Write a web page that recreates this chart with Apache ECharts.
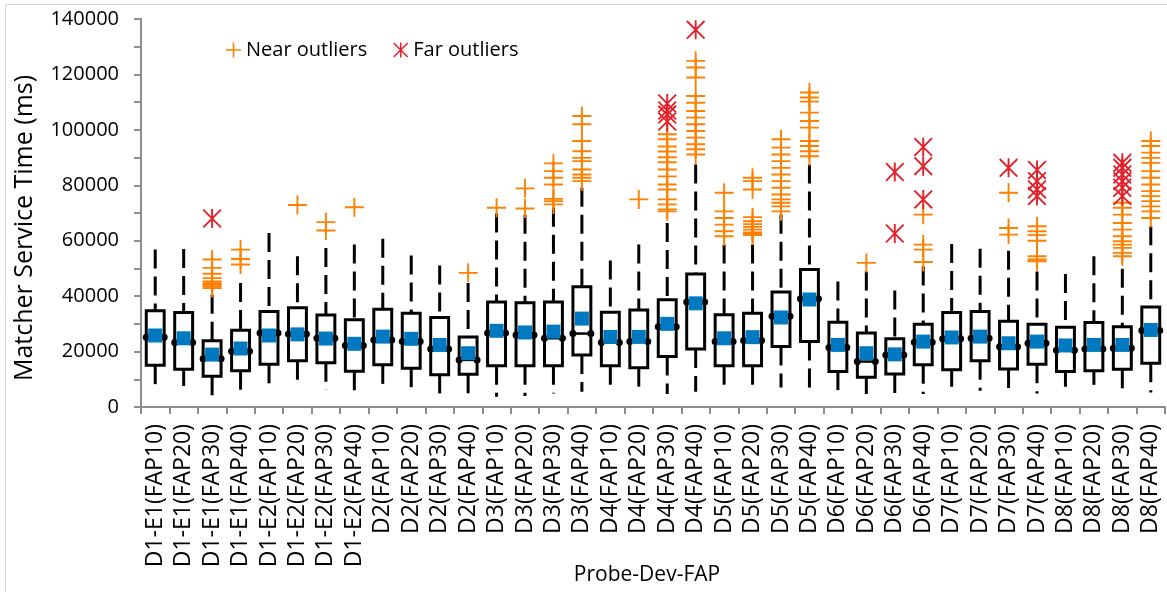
<!DOCTYPE html>
<html>
<head>
<meta charset="utf-8">
<script src="https://cdn.jsdelivr.net/npm/echarts@6/dist/echarts.min.js"></script>
<style>
  html, body { margin: 0; padding: 0; background: #fff; }
  #chart { width: 1167px; height: 592px; }
</style>
</head>
<body>
<div id="chart"></div>
<script>
// Matcher service time per probe / device / FAP setting (ms)
const categories = [
  'D1-E1(FAP10)', 'D1-E1(FAP20)', 'D1-E1(FAP30)', 'D1-E1(FAP40)',
  'D1-E2(FAP10)', 'D1-E2(FAP20)', 'D1-E2(FAP30)', 'D1-E2(FAP40)',
  'D2(FAP10)', 'D2(FAP20)', 'D2(FAP30)', 'D2(FAP40)',
  'D3(FAP10)', 'D3(FAP20)', 'D3(FAP30)', 'D3(FAP40)',
  'D4(FAP10)', 'D4(FAP20)', 'D4(FAP30)', 'D4(FAP40)',
  'D5(FAP10)', 'D5(FAP20)', 'D5(FAP30)', 'D5(FAP40)',
  'D6(FAP10)', 'D6(FAP20)', 'D6(FAP30)', 'D6(FAP40)',
  'D7(FAP10)', 'D7(FAP20)', 'D7(FAP30)', 'D7(FAP40)',
  'D8(FAP10)', 'D8(FAP20)', 'D8(FAP30)', 'D8(FAP40)'
];

const whiskerLow = [6900, 7600, 4000, 5500, 7100, 7300, 6100, 5200, 6400, 5800, 4900, 4600,
  3700, 4000, 4900, 5500, 7000, 6500, 4700, 5500, 7000, 6100, 7000, 6100,
  6100, 4700, 4700, 4700, 7300, 5900, 4700, 4900, 7300, 8000, 4300, 5200];

const q1 = [15100, 13600, 11100, 13100, 15400, 16700, 16000, 12900, 15200, 14000, 11600, 11800,
  14900, 14900, 14900, 18800, 14900, 14200, 18200, 20900, 14900, 14900, 21800, 23600,
  12800, 10700, 11900, 15200, 13400, 16700, 13700, 15400, 12800, 13100, 13600, 15800];

const median = [25200, 23300, 17400, 20100, 26700, 26300, 24800, 22200, 24200, 23600, 20900, 17000,
  26700, 26000, 24800, 26500, 23300, 23600, 29000, 37900, 23600, 24000, 32700, 39100,
  21500, 16400, 18800, 23400, 24600, 24800, 21700, 23000, 20500, 20900, 21200, 27600];

const q3 = [34700, 34100, 23900, 27700, 34500, 35800, 33200, 31500, 35300, 33800, 32300, 25300,
  37900, 37600, 37900, 43400, 34200, 35000, 38700, 48000, 33300, 33800, 41500, 49600,
  30600, 26700, 24600, 29900, 34100, 34500, 30900, 29900, 28800, 30500, 29000, 36100];

const whiskerHigh = [56800, 57000, 40500, 44700, 62800, 54400, 57400, 58600, 60700, 54700, 51100, 44700,
  69800, 69400, 71900, 79100, 52900, 58600, 66400, 87500, 58600, 58600, 69400, 87500,
  45300, 48900, 42000, 50700, 58800, 57100, 56400, 48900, 48000, 54400, 49900, 65200];

const mean = [25800, 24800, 18900, 21100, 25800, 26200, 24700, 22800, 25400, 24600, 22400, 19400,
  27500, 26900, 27200, 31900, 25300, 25300, 30000, 37400, 24800, 25200, 32300, 38800,
  22400, 19400, 19000, 23600, 25100, 25400, 23000, 23600, 22200, 22400, 22400, 27800];

// Outliers, one list per category (same order as categories)
const nearOutliers = [
  [], [],
  [53200, 50200, 48100, 46500, 45300, 44700, 44100, 43500, 42900],
  [56800, 53400, 51400],
  [], [72900], [66700, 63700], [72100],
  [], [], [], [48400],
  [71900], [78900, 71600],
  [87900, 85100, 82700, 80300, 75100, 74300, 73100],
  [105000, 102000, 96000, 92300, 89900, 88700, 85700, 83900, 82700, 81500],
  [], [74900],
  [98400, 96600, 94000, 92200, 90100, 88300, 85700, 83200, 80300, 78500, 74900, 73100, 71300, 70600],
  [124900, 122500, 118900, 112200, 109800, 106800, 104400, 102000, 99600, 97200, 94800, 93000, 91100],
  [77300, 70600, 68200, 65800, 63400, 61600],
  [82700, 81500, 78500, 68500, 67000, 66000, 65000, 64000, 63000, 62500, 62000],
  [96600, 93600, 91100, 88700, 86300, 83900, 81500, 79100, 76700, 74900, 73700, 72400, 70600],
  [113500, 111700, 110200, 106200, 103200, 100800, 96000, 94200, 92300, 90500],
  [], [52000], [], [69400, 58600, 56800, 52300],
  [], [], [77300, 64600, 62200],
  [65200, 63400, 62000, 60000, 54400, 53200, 52600],
  [], [],
  [73700, 71900, 69400, 66400, 64000, 61600, 59800, 58600, 57400, 55600, 54400],
  [96000, 94200, 91800, 89900, 88100, 85100, 82700, 80300, 77900, 76100, 74300, 72400, 70600, 68200]
];

const farOutliers = [
  [], [], [68000], [],
  [], [], [], [],
  [], [], [], [],
  [], [], [], [],
  [], [], [109500, 107000, 105500, 103000], [136100],
  [], [], [], [],
  [], [], [84800, 62600], [93800, 86900, 74900],
  [], [], [86300], [85500, 81500, 78500, 76100],
  [], [], [88100, 86300, 83900, 81500, 79100, 76100], []
];

const FONT = '"Open Sans", "Noto Sans", sans-serif';
const AXIS_GREY = '#8c8c8c';
const PLUS = 'path://M0,45L100,45L100,55L0,55Z M45,0L55,0L55,100L45,100Z';
const STAR = 'path://M0,7L7,0L100,93L93,100Z M93,0L100,7L7,100L0,93Z M45,0L55,0L55,100L45,100Z';

const boxData = categories.map((c, i) => [i, whiskerLow[i], q1[i], median[i], q3[i], whiskerHigh[i]]);
const meanData = categories.map((c, i) => [i, mean[i]]);
const toPoints = lists => lists.flatMap((vals, i) => vals.map(v => [i, v]));

const chart = echarts.init(document.getElementById('chart'), null, { renderer: 'canvas' });

chart.setOption({
  animation: false,
  backgroundColor: '#fff',
  grid: { left: 141, right: 2, top: 19, bottom: 185, containLabel: false },
  legend: {
    left: 221,
    top: 35,
    itemWidth: 15,
    itemHeight: 15,
    itemGap: 26,
    selectedMode: false,
    textStyle: { fontFamily: FONT, fontSize: 20, color: '#000' },
    data: [
      { name: 'Near outliers', icon: PLUS },
      { name: 'Far outliers', icon: STAR }
    ]
  },
  xAxis: {
    type: 'category',
    data: categories,
    boundaryGap: true,
    axisLine: { lineStyle: { color: AXIS_GREY, width: 2 } },
    axisTick: { show: true, length: 7, lineStyle: { color: AXIS_GREY, width: 2 } },
    axisLabel: {
      interval: 0, rotate: 90, margin: 17,
      fontFamily: FONT, fontSize: 23, color: '#000'
    },
    splitLine: { show: false }
  },
  yAxis: {
    type: 'value',
    min: 0, max: 140000, interval: 20000,
    axisLine: { show: true, lineStyle: { color: AXIS_GREY, width: 2 } },
    axisTick: { show: true, length: 7, lineStyle: { color: AXIS_GREY, width: 2 } },
    minorTick: { show: true, splitNumber: 2, length: 7, lineStyle: { color: AXIS_GREY, width: 2 } },
    axisLabel: {
      margin: 22, fontFamily: FONT, fontSize: 20, color: '#000',
      formatter: v => String(v)
    },
    splitLine: { show: false }
  },
  graphic: [
    {
      type: 'rect', silent: true, z: -10,
      shape: { x: 5.5, y: 4.5, width: 1300, height: 800 },
      style: { fill: 'none', stroke: '#d9d9d9', lineWidth: 1 }
    },
    {
      type: 'text', x: 25, y: 228, rotation: Math.PI / 2,
      style: {
        text: 'Matcher Service Time (ms)', font: '25px ' + FONT, fill: '#000',
        textAlign: 'center', textVerticalAlign: 'middle'
      }
    },
    {
      type: 'text', x: 647, y: 575,
      style: {
        text: 'Probe-Dev-FAP', font: '21px ' + FONT, fill: '#000',
        textAlign: 'center', textVerticalAlign: 'middle'
      }
    }
  ],
  series: [
    {
      type: 'custom',
      name: 'Box',
      data: boxData,
      encode: { x: 0, y: [1, 2, 3, 4, 5] },
      z: 2,
      renderItem: function (params, api) {
        const i = api.value(0);
        const low = api.coord([i, api.value(1)]);
        const lo = api.coord([i, api.value(2)]);
        const med = api.coord([i, api.value(3)]);
        const hi = api.coord([i, api.value(4)]);
        const high = api.coord([i, api.value(5)]);
        const w = api.size([1, 0])[0] * 0.63;
        const x = low[0];
        const dashed = { stroke: '#000', lineWidth: 3, lineDash: [19, 8] };
        return {
          type: 'group',
          children: [
            // upper whisker, dashed from its end down to the box
            { type: 'line', shape: { x1: x, y1: high[1], x2: x, y2: hi[1] }, style: dashed },
            // lower whisker, dashed from the box down to its end
            { type: 'line', shape: { x1: x, y1: lo[1], x2: x, y2: low[1] }, style: dashed },
            { type: 'rect', shape: { x: x - w / 2, y: hi[1], width: w, height: lo[1] - hi[1] },
              style: { fill: '#fff', stroke: '#000', lineWidth: 3 } },
            { type: 'line', shape: { x1: x - w / 2, y1: med[1], x2: x + w / 2, y2: med[1] },
              style: { stroke: '#000', lineWidth: 2.5 } },
            { type: 'circle', shape: { cx: x - w / 2, cy: med[1], r: 3.5 }, style: { fill: '#000' } },
            { type: 'circle', shape: { cx: x + w / 2, cy: med[1], r: 3.5 }, style: { fill: '#000' } }
          ]
        };
      }
    },
    {
      type: 'scatter',
      name: 'Mean',
      data: meanData,
      symbol: 'rect',
      symbolSize: 14,
      itemStyle: { color: '#0079c1', opacity: 1 },
      z: 5
    },
    {
      type: 'scatter',
      name: 'Near outliers',
      data: toPoints(nearOutliers),
      symbol: PLUS,
      symbolSize: 19,
      itemStyle: { color: '#ff8000', opacity: 1 },
      z: 4
    },
    {
      type: 'scatter',
      name: 'Far outliers',
      data: toPoints(farOutliers),
      symbol: STAR,
      symbolSize: 19,
      itemStyle: { color: '#e5202a', opacity: 1 },
      z: 4
    }
  ]
});
</script>
</body>
</html>
